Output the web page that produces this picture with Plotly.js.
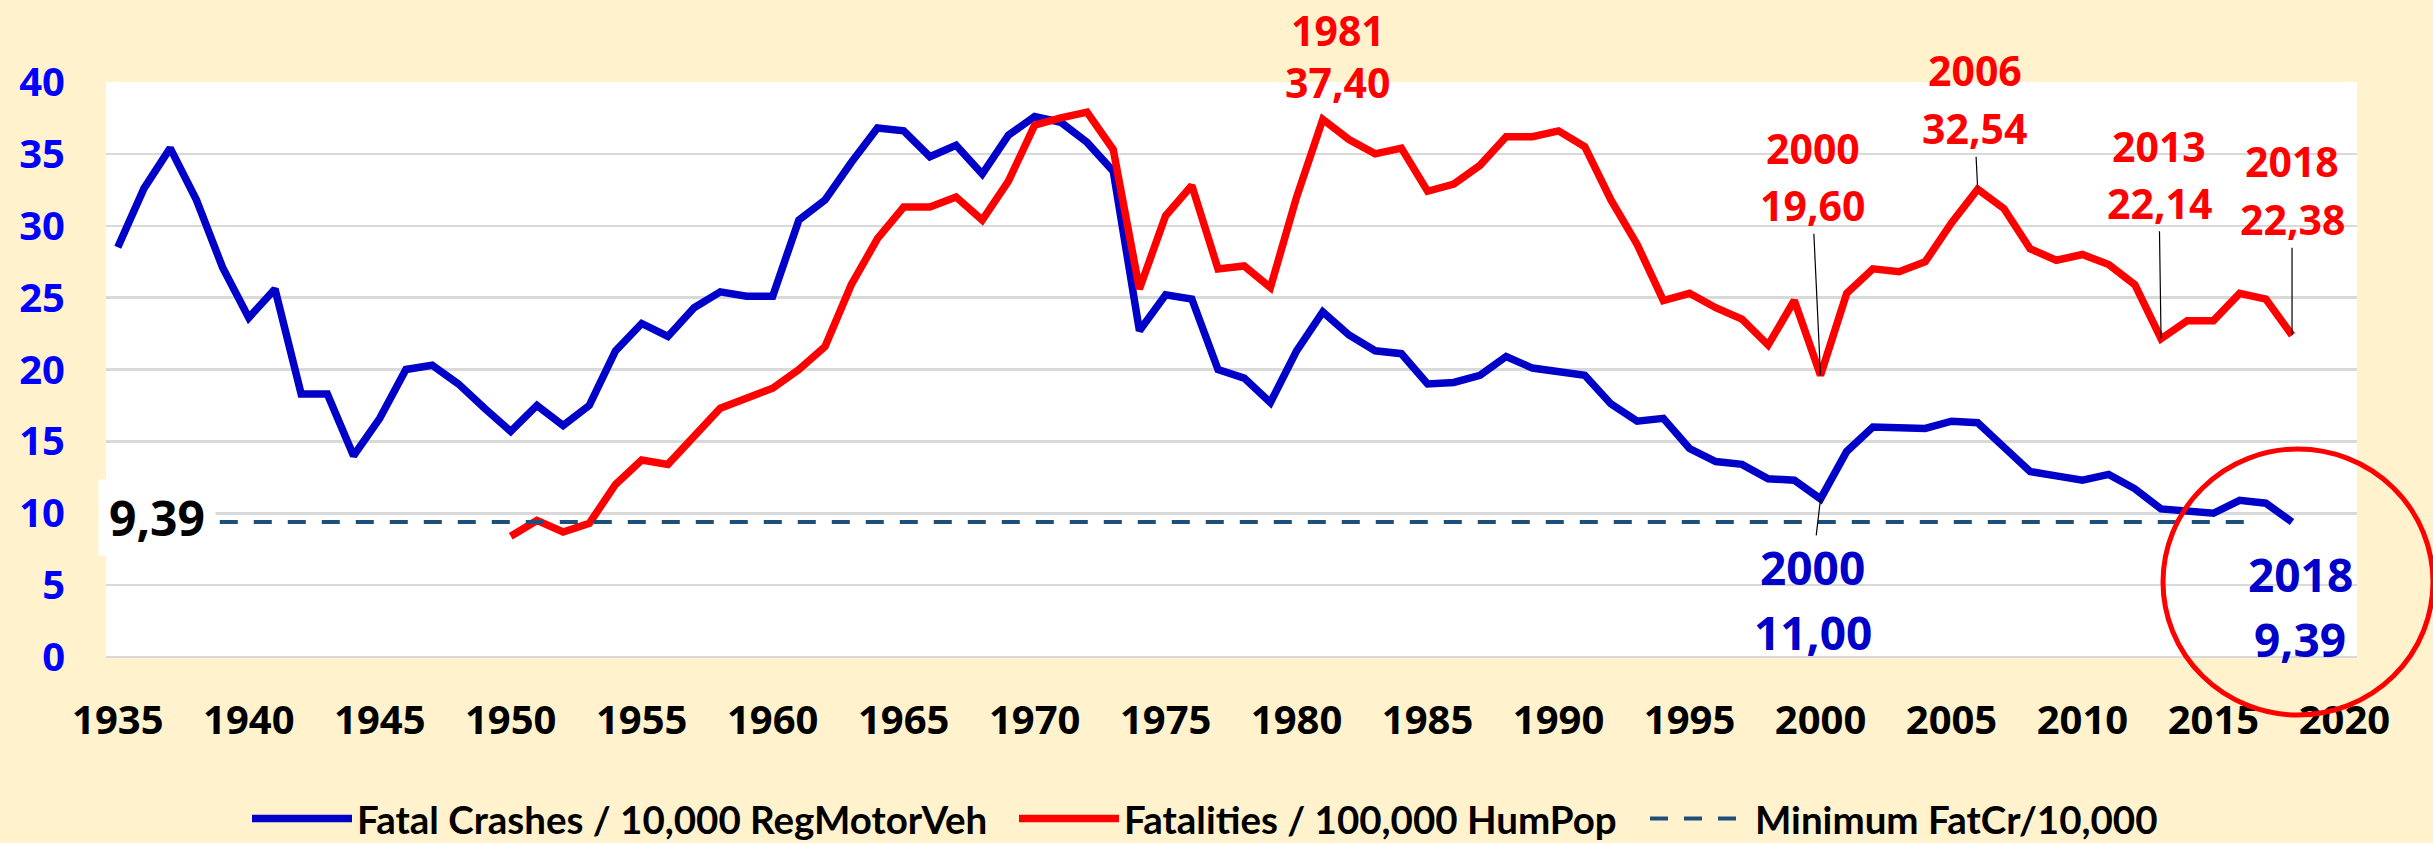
<!DOCTYPE html>
<html>
<head>
<meta charset="utf-8">
<script src="https://cdn.plot.ly/plotly-3.0.1.min.js"></script>
<style>
  html, body { margin: 0; padding: 0; background: #FFF2CC; }
  #chart { width: 2433px; height: 843px; }
</style>
</head>
<body>
<div id="chart"></div>
<script>
// ---------------- DATA ----------------
const crashYears = [1935,1936,1937,1938,1939,1940,1941,1942,1943,1944,1945,1946,1947,1948,1949,
  1950,1951,1952,1953,1954,1955,1956,1957,1958,1959,1960,1961,1962,1963,1964,1965,1966,1967,1968,1969,
  1970,1971,1972,1973,1974,1975,1976,1977,1978,1979,1980,1981,1982,1983,1984,1985,1986,1987,1988,1989,
  1990,1991,1992,1993,1994,1995,1996,1997,1998,1999,2000,2001,2002,2003,2004,2005,2006,2007,2008,2009,
  2010,2011,2012,2013,2014,2015,2016,2017,2018];
const fatalCrashesPer10kVeh = [28.5,32.6,35.4,31.8,27.1,23.6,25.6,18.3,18.3,14.0,16.6,20.0,20.3,19.0,17.3,
  15.7,17.5,16.1,17.5,21.3,23.2,22.3,24.3,25.4,25.1,25.1,30.4,31.8,34.4,36.8,36.6,34.8,35.6,33.6,36.3,
  37.6,37.2,35.8,33.8,22.7,25.2,24.9,20.0,19.4,17.7,21.3,24.0,22.4,21.3,21.1,19.0,19.1,19.6,20.9,20.1,
  19.9,19.6,17.6,16.4,16.6,14.5,13.6,13.4,12.4,12.3,11.0,14.3,16.0,15.9,15.9,16.4,16.3,14.6,12.9,12.6,
  12.3,12.7,11.7,10.3,10.1,10.0,10.9,10.7,9.39];

const fatalityYears = [1950,1951,1952,1953,1954,1955,1956,1957,1958,1959,1960,1961,1962,1963,1964,1965,
  1966,1967,1968,1969,1970,1971,1972,1973,1974,1975,1976,1977,1978,1979,1980,1981,1982,1983,1984,1985,
  1986,1987,1988,1989,1990,1991,1992,1993,1994,1995,1996,1997,1998,1999,2000,2001,2002,2003,2004,2005,
  2006,2007,2008,2009,2010,2011,2012,2013,2014,2015,2016,2017,2018];
const fatalitiesPer100kPop = [8.4,9.5,8.7,9.3,12.0,13.7,13.4,15.3,17.3,18.0,18.7,20.0,21.6,25.9,29.1,31.3,
  31.3,32.0,30.4,33.1,37.0,37.5,37.9,35.3,25.6,30.7,32.8,27.0,27.2,25.7,32.0,37.4,36.0,35.0,35.4,32.4,
  32.9,34.2,36.2,36.2,36.6,35.5,31.8,28.7,24.8,25.3,24.3,23.5,21.7,24.8,19.6,25.3,27.0,26.8,27.5,30.2,
  32.54,31.2,28.4,27.6,28.0,27.3,25.9,22.14,23.4,23.4,25.3,24.9,22.38];

const minimumYears = [1935, 2016.5];
const minimumValue = 9.39;

const seriesNames = ['Fatal Crashes / 10,000 RegMotorVeh', 'Fatalities / 100,000 HumPop', 'Minimum FatCr/10,000'];

// labelled points
const redLabelYears = [1981, 2000, 2006, 2013, 2018];
const blueLabelYears = [2000, 2018];

// ---------------- HELPERS ----------------
const fmt = v => v.toFixed(2).replace('.', ',');
const valAt = (years, vals, y) => vals[years.indexOf(y)];

// plot geometry (px)
const W = 2433, H = 843;
const M = { l: 106, r: 76, t: 82, b: 186, autoexpand: false };
const PW = W - M.l - M.r, PH = H - M.t - M.b;
const px2paperX = px => (px - M.l) / PW;
const px2paperY = py => (H - M.b - py) / PH;

const FONT = 'Open Sans, Liberation Sans, Arial, sans-serif';
const BLUE = '#0000C8', RED = '#FF0000';

const traces = [
  { x: crashYears, y: fatalCrashesPer10kVeh, name: seriesNames[0], type: 'scatter', mode: 'lines',
    line: { color: BLUE, width: 7.5 }, hoverinfo: 'x+y', legendwidth: 652 },
  { x: fatalityYears, y: fatalitiesPer100kPop, name: seriesNames[1], type: 'scatter', mode: 'lines',
    line: { color: RED, width: 7.5 }, hoverinfo: 'x+y', legendwidth: 516 },
  { x: minimumYears, y: minimumYears.map(() => minimumValue), name: seriesNames[2], type: 'scatter', mode: 'lines',
    line: { color: '#1F4E79', width: 4, dash: '18px,16px' }, hoverinfo: 'y' }
];

// label placement: [dx, dyYear, dyValue, arrowOn ('value'|'year'|null)] in px relative to the point
const redPlace = { 1981: [15, -89, -37, null], 2000: [-8, -227, -170, 'value'], 2006: [-3, -119, -61, 'value'],
  2013: [-2, -193, -136, 'value'], 2018: [0, -174, -116, 'value'] };
const bluePlace = { 2000: [-8, 68, 133, 'year'], 2018: [8, 52, 117, null] };

const annotations = [];
function addLabel(yr, v, place, color, size) {
  const [dx, dyY, dyV, arrowOn] = place;
  const parts = [[String(yr), dyY, arrowOn === 'year'], [fmt(v), dyV, arrowOn === 'value']];
  parts.forEach(([txt, dy, arrow]) => {
    const a = { x: yr, y: v, xref: 'x', yref: 'y', text: txt, align: 'center',
      font: { family: FONT, size: size, color: color, weight: 'bold' } };
    if (arrow) {
      Object.assign(a, { showarrow: true, arrowhead: 0, arrowwidth: 1.2, arrowcolor: '#000',
        ax: dx, ay: dy, standoff: 0, xanchor: 'center', yanchor: 'middle', borderpad: 0 });
    } else {
      Object.assign(a, { showarrow: false, xshift: dx, yshift: -dy, xanchor: 'center', yanchor: 'middle', borderpad: 0 });
    }
    annotations.push(a);
  });
}
redLabelYears.forEach(yr => addLabel(yr, valAt(fatalityYears, fatalitiesPer100kPop, yr), redPlace[yr], RED, 41));
blueLabelYears.forEach(yr => addLabel(yr, valAt(crashYears, fatalCrashesPer10kVeh, yr), bluePlace[yr], BLUE, 46));

// minimum label box
annotations.push({ xref: 'paper', yref: 'paper', x: px2paperX(157), y: px2paperY(517),
  xanchor: 'center', yanchor: 'middle', showarrow: false,
  text: fmt(minimumValue), bgcolor: '#FFFFFF', borderpad: 0, width: 116, height: 75,
  font: { family: FONT, size: 48, color: '#000000', weight: 'bold' } });

const layout = {
  width: W, height: H,
  paper_bgcolor: '#FFF2CC', plot_bgcolor: '#FFFFFF',
  margin: M,
  showlegend: true,
  legend: { orientation: 'h', x: px2paperX(247), xanchor: 'left', y: px2paperY(819), yanchor: 'middle',
    font: { family: 'Lato, Open Sans, sans-serif', size: 38.5, color: '#000', weight: 'bold' },
    bgcolor: 'rgba(0,0,0,0)', itemwidth: 100, traceorder: 'normal' },
  xaxis: { range: [1934.55, 2020.48], tick0: 1935, dtick: 5, showgrid: false, zeroline: false,
    showline: false, ticks: '', ticklabelstandoff: 36,
    tickfont: { family: FONT, size: 40, color: '#000', weight: 'bold' } },
  yaxis: { range: [0, 40], dtick: 5, showgrid: true, gridcolor: '#D9D9D9', gridwidth: 2.5,
    zeroline: true, zerolinecolor: '#D9D9D9', zerolinewidth: 2.5, showline: false, ticks: '',
    ticklabelstandoff: 40,
    tickfont: { family: FONT, size: 40, color: '#0000FF', weight: 'bold' } },
  annotations: annotations,
  shapes: [
    { type: 'circle', xref: 'paper', yref: 'paper', x0: px2paperX(2163), x1: px2paperX(2433), y0: px2paperY(715), y1: px2paperY(449),
      line: { color: RED, width: 5 }, layer: 'above' }
  ]
};

Plotly.newPlot('chart', traces, layout, { displayModeBar: false, staticPlot: true });
</script>
</body>
</html>
